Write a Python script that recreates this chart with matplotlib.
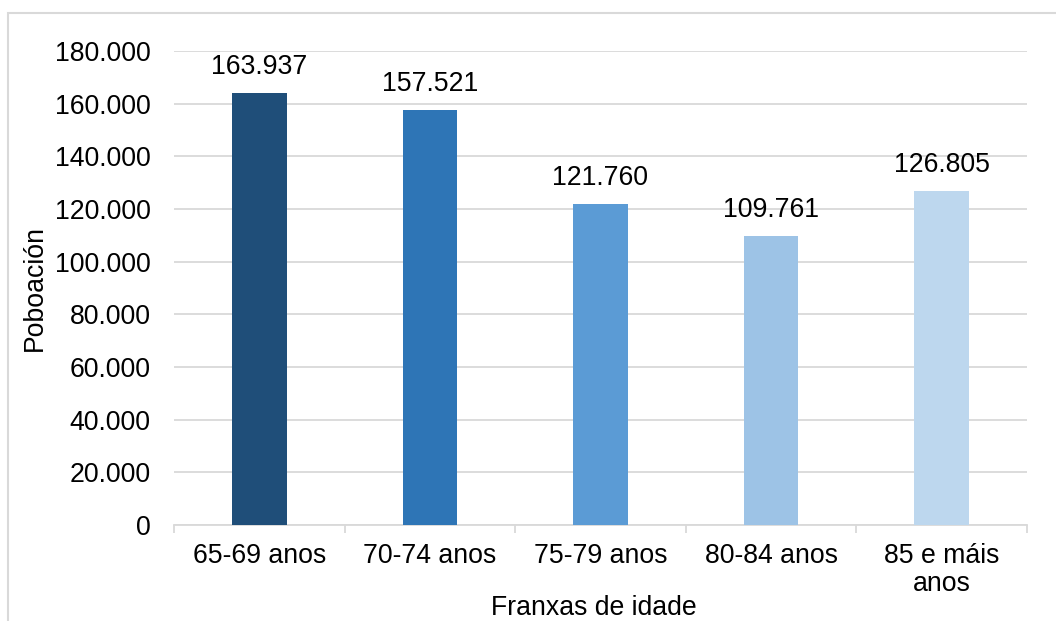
import matplotlib.pyplot as plt
from matplotlib.patches import Rectangle
from matplotlib.ticker import FuncFormatter, FixedLocator

plt.rcParams['font.family'] = ['Liberation Sans', 'DejaVu Sans']

# Population by age band
franxas = ["65-69 anos", "70-74 anos", "75-79 anos", "80-84 anos", "85 e máis\nanos"]
poboacion = [163937, 157521, 121760, 109761, 126805]
cores = ["#1F4E79", "#2E75B6", "#5B9BD5", "#9DC3E6", "#BDD7EE"]

grey = "#D9D9D9"
fs = 19.2

fig = plt.figure(figsize=(10.56, 6.21), dpi=100)
ax = fig.add_axes([0.1648, 0.1546, 0.8077, 0.7633])

x = range(len(franxas))
bars = ax.bar(x, poboacion, width=0.32, color=cores, zorder=3)

def fmt_miles(v, pos=None):
    return f"{int(round(v)):,}".replace(",", ".")

for b, v in zip(bars, poboacion):
    ax.annotate(fmt_miles(v), (b.get_x() + b.get_width() / 2, v),
                xytext=(0, 9.5), textcoords="offset points",
                ha="center", va="bottom", fontsize=fs)

ax.set_ylim(0, 180000)
ax.set_xlim(-0.5, len(franxas) - 0.5)
ax.set_yticks(range(0, 180001, 20000))
ax.yaxis.set_major_formatter(FuncFormatter(fmt_miles))
ax.set_xticks(list(x))
ax.set_xticklabels(franxas, fontsize=fs, linespacing=1.12)
ax.xaxis.set_minor_locator(FixedLocator([i - 0.5 for i in range(len(franxas) + 1)]))

ax.tick_params(axis="y", length=0, pad=17, labelsize=fs)
ax.tick_params(axis="x", which="major", length=0, pad=13)
ax.tick_params(axis="x", which="minor", length=6, width=1.3, color=grey)

ax.grid(axis="y", color=grey, linewidth=1.3, zorder=0)
for side in ("top", "right", "left"):
    ax.spines[side].set_visible(False)
ax.spines["bottom"].set_color(grey)
ax.spines["bottom"].set_linewidth(1.3)

ax.set_ylabel("Poboación", fontsize=fs, va="center")
ax.yaxis.set_label_coords(-0.163, 0.5)
ax.set_xlabel("Franxas de idade", fontsize=fs, va="center")
ax.xaxis.set_label_coords(0.492, -0.175)

# chart area outline
fig.patches.append(Rectangle((8 / 1056, -0.05), 1.1, 0.979 + 0.05,
                             transform=fig.transFigure, fill=False,
                             edgecolor=grey, linewidth=1.5))

fig.savefig("out.png", dpi=100)
